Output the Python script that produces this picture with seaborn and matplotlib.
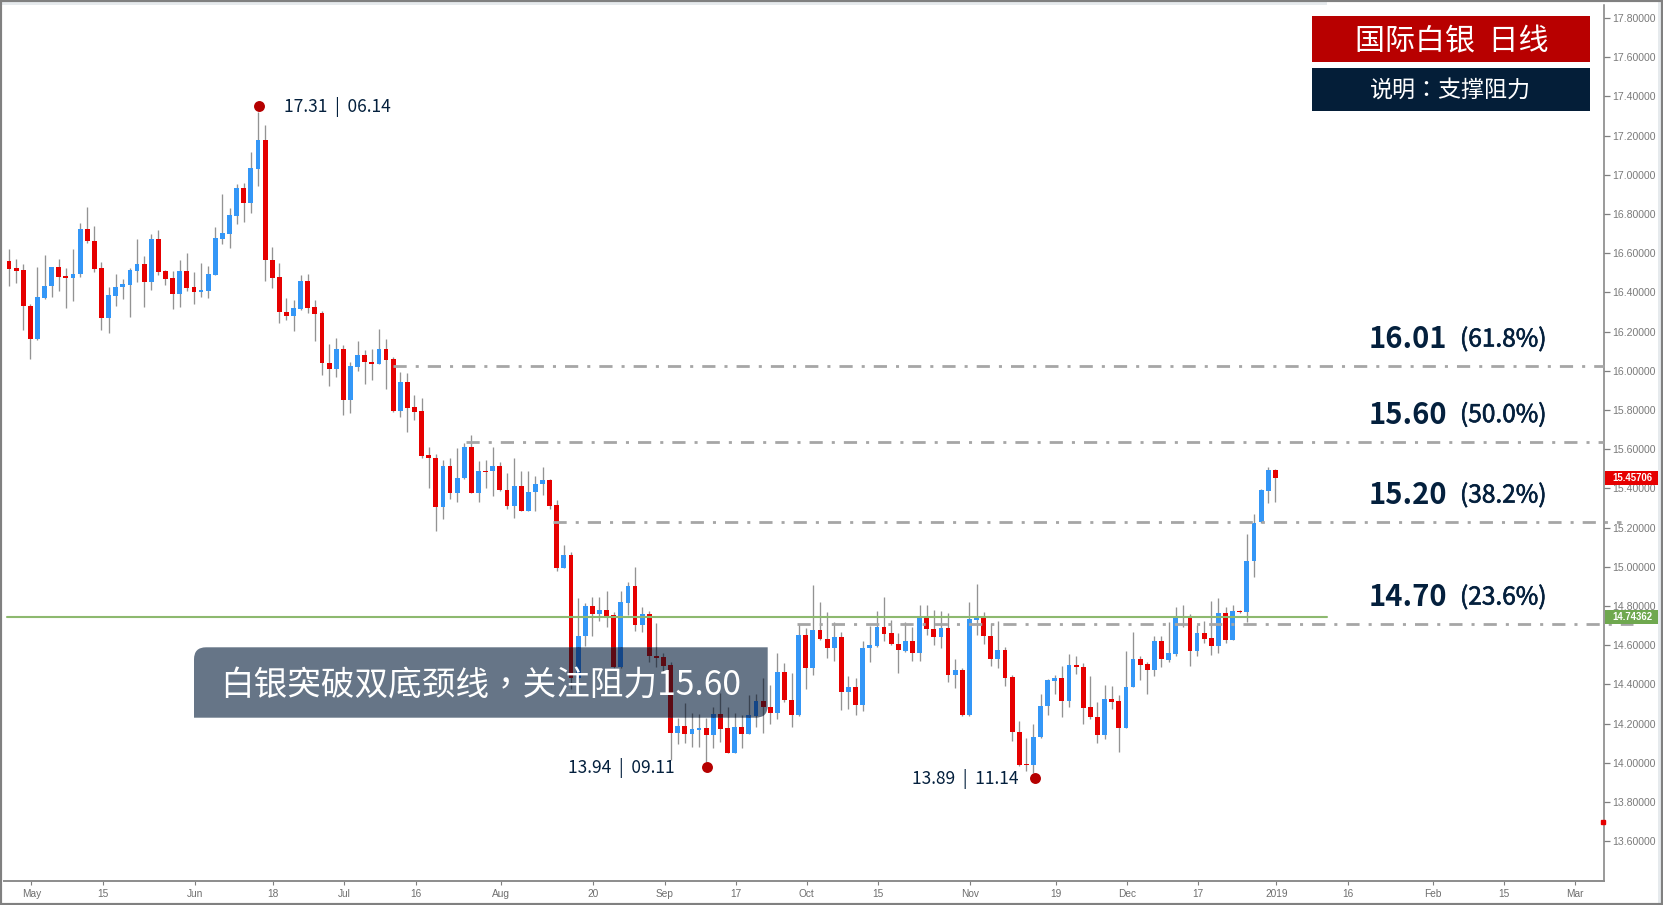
import numpy as np
import pandas as pd
import matplotlib
matplotlib.use("Agg")
import matplotlib.pyplot as plt
import matplotlib.patheffects as pe
import seaborn as sns
from matplotlib.patches import PathPatch, Rectangle
from matplotlib.path import Path

# ─────────────────────────────────────────────
# Data (prices)
# ─────────────────────────────────────────────

opens = [
    16.560, 16.524, 16.514, 16.332, 16.162, 16.373, 16.432, 16.531, 16.483, 16.475,
    16.493, 16.721, 16.664, 16.522, 16.267, 16.381, 16.427, 16.439, 16.510, 16.544,
    16.453, 16.672, 16.509, 16.473, 16.391, 16.509, 16.425, 16.400, 16.407, 16.488,
    16.674, 16.700, 16.790, 16.933, 16.855, 17.030, 17.176, 16.567, 16.478, 16.301,
    16.281, 16.317, 16.456, 16.323, 16.293, 16.041, 16.007, 16.111, 15.849, 16.019,
    16.080, 16.046, 16.034, 16.111, 16.060, 15.796, 15.941, 15.813, 15.794, 15.570,
    15.557, 15.305, 15.513, 15.378, 15.451, 15.610, 15.378, 15.490, 15.487, 15.516,
    15.392, 15.312, 15.411, 15.285, 15.383, 15.422, 15.441, 15.314, 14.994, 15.062,
    14.431, 14.644, 14.802, 14.759, 14.780, 14.752, 14.490, 14.817, 14.900, 14.703,
    14.759, 14.545, 14.538, 14.497, 14.154, 14.189, 14.147, 14.167, 14.176, 14.142,
    14.251, 14.176, 14.052, 14.181, 14.147, 14.239, 14.315, 14.285, 14.252, 14.462,
    14.320, 14.242, 14.652, 14.482, 14.678, 14.633, 14.586, 14.639, 14.363, 14.387,
    14.297, 14.583, 14.595, 14.691, 14.661, 14.608, 14.572, 14.622, 14.561, 14.736,
    14.683, 14.639, 14.688, 14.448, 14.472, 14.244, 14.729, 14.741, 14.647, 14.530,
    14.574, 14.438, 14.157, 13.994, 13.989, 14.129, 14.287, 14.419, 14.433, 14.314,
    14.498, 14.489, 14.282, 14.234, 14.142, 14.326, 14.314, 14.178, 14.385, 14.530,
    14.503, 14.472, 14.622, 14.525, 14.554, 14.744, 14.748, 14.569, 14.661, 14.635,
    14.596, 14.763, 14.627, 14.775, 14.768, 15.028, 15.229, 15.385, 15.494,
]
closes = [
    16.519, 16.509, 16.330, 16.162, 16.376, 16.434, 16.531, 16.480, 16.475, 16.495,
    16.721, 16.660, 16.519, 16.267, 16.385, 16.429, 16.442, 16.514, 16.544, 16.453,
    16.672, 16.505, 16.470, 16.391, 16.509, 16.422, 16.400, 16.412, 16.492, 16.677,
    16.703, 16.792, 16.933, 16.855, 17.035, 17.176, 16.564, 16.473, 16.298, 16.281,
    16.320, 16.456, 16.320, 16.291, 16.038, 16.007, 16.111, 15.849, 16.024, 16.080,
    16.043, 16.034, 16.111, 16.055, 15.796, 15.941, 15.808, 15.789, 15.567, 15.553,
    15.305, 15.513, 15.378, 15.455, 15.610, 15.378, 15.489, 15.485, 15.516, 15.390,
    15.312, 15.411, 15.286, 15.383, 15.422, 15.441, 15.312, 14.994, 15.062, 14.431,
    14.647, 14.802, 14.759, 14.780, 14.751, 14.490, 14.820, 14.900, 14.703, 14.759,
    14.545, 14.536, 14.494, 14.154, 14.189, 14.147, 14.171, 14.176, 14.142, 14.251,
    14.172, 14.052, 14.181, 14.147, 14.242, 14.315, 14.283, 14.252, 14.462, 14.320,
    14.242, 14.652, 14.482, 14.678, 14.630, 14.587, 14.639, 14.363, 14.387, 14.297,
    14.586, 14.600, 14.691, 14.657, 14.605, 14.574, 14.622, 14.561, 14.736, 14.680,
    14.639, 14.688, 14.450, 14.472, 14.244, 14.732, 14.741, 14.644, 14.530, 14.574,
    14.433, 14.156, 13.989, 13.987, 14.132, 14.290, 14.423, 14.433, 14.314, 14.498,
    14.486, 14.278, 14.231, 14.142, 14.326, 14.309, 14.178, 14.387, 14.530, 14.499,
    14.472, 14.622, 14.527, 14.561, 14.742, 14.748, 14.569, 14.661, 14.632, 14.596,
    14.763, 14.627, 14.775, 14.768, 15.031, 15.222, 15.390, 15.494, 15.451,
]
highs = [
    16.619, 16.568, 16.543, 16.339, 16.531, 16.589, 16.531, 16.568, 16.522, 16.619,
    16.755, 16.835, 16.738, 16.553, 16.425, 16.492, 16.470, 16.522, 16.672, 16.585,
    16.696, 16.716, 16.514, 16.509, 16.563, 16.599, 16.504, 16.550, 16.536, 16.733,
    16.902, 16.831, 16.953, 16.957, 17.115, 17.322, 17.254, 16.633, 16.550, 16.373,
    16.361, 16.488, 16.492, 16.361, 16.305, 16.135, 16.165, 16.130, 16.044, 16.152,
    16.104, 16.111, 16.211, 16.160, 16.072, 15.992, 15.987, 15.876, 15.859, 15.613,
    15.576, 15.543, 15.557, 15.604, 15.633, 15.672, 15.538, 15.543, 15.610, 15.533,
    15.477, 15.557, 15.490, 15.490, 15.465, 15.508, 15.450, 15.339, 15.110, 15.076,
    14.839, 14.814, 14.846, 14.846, 14.877, 14.771, 14.877, 14.921, 15.001, 14.793,
    14.773, 14.713, 14.559, 14.513, 14.230, 14.307, 14.252, 14.249, 14.227, 14.283,
    14.354, 14.286, 14.252, 14.244, 14.344, 14.351, 14.431, 14.394, 14.559, 14.511,
    14.456, 14.708, 14.686, 14.907, 14.822, 14.771, 14.717, 14.666, 14.440, 14.431,
    14.622, 14.700, 14.776, 14.845, 14.729, 14.661, 14.719, 14.691, 14.805, 14.805,
    14.780, 14.776, 14.763, 14.530, 14.482, 14.821, 14.913, 14.768, 14.712, 14.722,
    14.589, 14.447, 14.212, 14.127, 14.198, 14.351, 14.426, 14.447, 14.494, 14.555,
    14.542, 14.508, 14.441, 14.311, 14.397, 14.392, 14.345, 14.569, 14.666, 14.542,
    14.515, 14.647, 14.647, 14.717, 14.797, 14.807, 14.758, 14.703, 14.725, 14.824,
    14.839, 14.792, 14.805, 14.778, 15.167, 15.269, 15.394, 15.508, 15.497,
]
lows = [
    16.432, 16.449, 16.208, 16.058, 16.155, 16.364, 16.374, 16.408, 16.322, 16.357,
    16.480, 16.653, 16.505, 16.206, 16.194, 16.330, 16.364, 16.276, 16.454, 16.327,
    16.414, 16.490, 16.436, 16.317, 16.325, 16.408, 16.339, 16.378, 16.369, 16.488,
    16.649, 16.625, 16.749, 16.758, 16.807, 16.945, 16.458, 16.422, 16.245, 16.259,
    16.201, 16.310, 16.296, 16.153, 15.976, 15.924, 15.970, 15.774, 15.786, 16.000,
    15.934, 15.954, 16.032, 15.907, 15.788, 15.766, 15.686, 15.747, 15.553, 15.400,
    15.184, 15.246, 15.346, 15.332, 15.446, 15.375, 15.329, 15.400, 15.363, 15.385,
    15.293, 15.249, 15.283, 15.283, 15.285, 15.368, 15.293, 14.980, 14.992, 14.375,
    14.425, 14.596, 14.649, 14.723, 14.691, 14.485, 14.485, 14.754, 14.674, 14.666,
    14.513, 14.490, 14.465, 14.014, 14.094, 14.099, 14.079, 14.079, 14.006, 14.074,
    14.108, 14.050, 14.050, 14.074, 14.145, 14.184, 14.154, 14.198, 14.223, 14.312,
    14.181, 14.240, 14.377, 14.445, 14.627, 14.533, 14.521, 14.270, 14.275, 14.244,
    14.266, 14.516, 14.592, 14.622, 14.601, 14.460, 14.566, 14.521, 14.521, 14.651,
    14.601, 14.583, 14.411, 14.380, 14.240, 14.240, 14.654, 14.605, 14.491, 14.481,
    14.389, 14.112, 13.985, 13.960, 13.947, 14.125, 14.244, 14.351, 14.234, 14.283,
    14.455, 14.195, 14.222, 14.101, 14.123, 14.275, 14.057, 14.175, 14.384, 14.423,
    14.350, 14.441, 14.486, 14.516, 14.545, 14.690, 14.494, 14.547, 14.613, 14.552,
    14.562, 14.610, 14.625, 14.765, 14.717, 14.948, 15.225, 15.327, 15.332,
]

x_tick_bars = [3, 13, 26, 37, 47, 57, 69, 82, 92, 102, 112, 122, 135, 147, 157, 167, 178, 188, 200, 210, 220]
x_tick_labels = ["May", "15", "Jun", "18", "Jul", "16", "Aug", "20", "Sep", "17", "Oct", "15",
                 "Nov", "19", "Dec", "17", "2019", "16", "Feb", "15", "Mar"]
y_ticks = [17.8, 17.6, 17.4, 17.2, 17.0, 16.8, 16.6, 16.4, 16.2, 16.0, 15.8,
           15.6, 15.4, 15.2, 15.0, 14.8, 14.6, 14.4, 14.2, 14.0, 13.8, 13.6]

level_prices = [16.024, 15.638, 15.229, 14.708]
level_start_bars = [54.0, 64.3, 76.5, 110.7]
level_end_bars = [224.2, 224.2, 226.6, 228.3]
level_names = ["16.01", "15.60", "15.20", "14.70"]
level_pcts = ["(61.8%)", "(50.0%)", "(38.2%)", "(23.6%)"]

neckline_price = 14.74362
last_price = 15.45706

swing_bars = [35.15, 98.1, 144.2]
swing_prices = [17.35, 13.98, 13.92]
swing_labels = ["17.31  |  06.14", "13.94  |  09.11", "13.89  |  11.14"]

# ─────────────────────────────────────────────
# Layout helpers
# ─────────────────────────────────────────────

W, H = 1663, 905
UP = "#3497F7"
DOWN = "#E60000"
WICK = "#939393"
NAVY = "#04203D"
CJK = ["Noto Sans CJK SC", "DejaVu Sans"]
CJK_TC = ["Noto Sans CJK TC", "DejaVu Sans"]

sns.set_theme(style="white")
plt.rcParams["font.family"] = CJK
plt.rcParams["lines.scale_dashes"] = False


def fx(px):
    return px / W


def fy(py):
    return 1 - py / H


def draw_candles(ax, df, up, down, wick, clip=None, z=2):
    """Draw wicks and bodies; with clip set, only the part inside that patch shows."""
    colors = np.where(df["close"] >= df["open"], up, down)
    wicks = ax.vlines(df["bar"], df["low"], df["high"], color=wick, linewidth=0.95, zorder=z)
    bodies = ax.bar(df["bar"], (df["close"] - df["open"]).abs(), bottom=df[["open", "close"]].min(axis=1),
                    width=0.68, color=colors, linewidth=0, zorder=z + 0.1)
    if clip is not None:
        wicks.set_clip_path(clip)
        for b in bodies:
            b.set_clip_path(clip)


df = pd.DataFrame({"open": opens, "high": highs, "low": lows, "close": closes})
df["bar"] = np.arange(len(df))

fig = plt.figure(figsize=(W / 100, H / 100), dpi=100, facecolor="white")
ax = fig.add_axes([fx(4), fy(880.7), fx(1604 - 4), (880.7 - 5) / H])
ax.set_xlim(-0.7, 224.2)
ax.set_ylim(13.398, 17.866)

draw_candles(ax, df, UP, DOWN, WICK)

# neckline and retracement levels
sns.lineplot(x=[-0.3, 185.2], y=[neckline_price, neckline_price], ax=ax, color="#8DB96F",
             linewidth=1.5, zorder=3)
for price, start, end in zip(level_prices, level_start_bars, level_end_bars):
    line = sns.lineplot(x=[start, end], y=[price, price], ax=ax, color="#A6A6A6", linewidth=2.0,
                        linestyle=(0, (9.5, 6.5, 2.2, 6.5)), zorder=3)
    line.lines[-1].set_clip_on(False)
    line.lines[-1].set_dash_capstyle("butt")

# swing points
sns.scatterplot(x=swing_bars, y=swing_prices, ax=ax, color="#B50000", s=62, linewidth=0, zorder=5)

# axes
for side in ["left", "top"]:
    ax.spines[side].set_visible(False)
ax.spines["right"].set_color("#7F7F7F")
ax.spines["right"].set_linewidth(1.1)
ax.spines["bottom"].set_color("#8C8C8C")
ax.spines["bottom"].set_linewidth(1.4)
ax.yaxis.tick_right()
ax.set_yticks(y_ticks)
ax.set_yticklabels([f"{v:.5f}" for v in y_ticks], fontfamily="Liberation Sans", fontsize=7.6, color="#7A7A7A")
ax.set_xticks(np.array(x_tick_bars) + 0.15)
ax.set_xticklabels(x_tick_labels, fontfamily="Liberation Sans", fontsize=7.3, color="#6E6E6E")
ax.tick_params(axis="y", length=4, width=0.9, color="#7F7F7F", pad=2.2, right=True, left=False)
ax.tick_params(axis="x", length=3, width=0.8, color="#7F7F7F", pad=3, bottom=True)
ax.grid(False)

# stray stop marker sitting on the price axis
ax.plot([224.1], [13.70], marker="s", markersize=2.8, color="#E60000", clip_on=False, zorder=6)

# annotation box, candles multiply through it
x0, x1, y0, y1 = 194, 767.7, 647.3, 717.7
r = 12
box_px = [(x0 + r, y0), (x1, y0), (x1, y1 - r), (x1, y1), (x1 - r, y1), (x0, y1), (x0, y0 + r), (x0, y0), (x0 + r, y0)]
codes = [Path.MOVETO, Path.LINETO, Path.LINETO, Path.CURVE3, Path.CURVE3, Path.LINETO, Path.LINETO, Path.CURVE3, Path.CURVE3]
box_path = Path([(fx(px), fy(py)) for px, py in box_px], codes)
box = PathPatch(box_path, transform=fig.transFigure, facecolor="#667587", edgecolor="none", zorder=4)
ax.add_patch(box)
box.set_clip_on(False)
draw_candles(ax, df, "#144687", "#5C0A14", "#3A4350", clip=box, z=4.2)

fig.text(fx(220.5), fy(686), "白银突破双底颈线，关注阻力15.60", color="white", fontsize=24.2,
         family=CJK_TC, va="center", ha="left", zorder=10)

# title boxes
fig.patches.append(Rectangle((fx(1312), fy(62)), fx(278), 46 / H, transform=fig.transFigure, facecolor="#B80000", edgecolor="none"))
fig.patches.append(Rectangle((fx(1312), fy(110.7)), fx(278), 42.7 / H, transform=fig.transFigure, facecolor="#041E38", edgecolor="none"))
fig.text(fx(1451.5), fy(42), "国际白银  日线", color="white", fontsize=21.6, ha="center", va="center", zorder=10)
fig.text(fx(1450), fy(90), "说明：支撑阻力", color="white", fontsize=16.6, family=CJK_TC, ha="center", va="center", zorder=10)

# level captions
name_y = [339, 414.6, 495, 597]
medium = [pe.withStroke(linewidth=0.45, foreground=NAVY)]
for name, pct, py in zip(level_names, level_pcts, name_y):
    fig.text(fx(1369), fy(py), name, color=NAVY, fontsize=21, fontweight="bold", ha="left", va="center", zorder=10)
    fig.text(fx(1460), fy(py + 0.5), pct, color=NAVY, fontsize=17.6, ha="left", va="center", zorder=10, path_effects=medium)

# swing captions
label_xy = [(284, 106.7), (567.5, 768), (911.5, 779)]
for text, (px, py) in zip(swing_labels, label_xy):
    fig.text(fx(px), fy(py), text, color=NAVY, fontsize=12.5, ha="left", va="center", zorder=10)

# current price tags on the axis
for price, color, py0 in [(last_price, "#E60000", 470.7), (neckline_price, "#6FA84F", 610)]:
    fig.patches.append(Rectangle((fx(1604.5), fy(py0 + 14.3)), fx(53), 14.3 / H, transform=fig.transFigure,
                                 facecolor=color, edgecolor="none", zorder=9))
    fig.text(fx(1612), fy(py0 + 7.2), f"{price:.5f}", color="white", fontsize=6.9, fontfamily="Liberation Sans",
             fontweight="bold", ha="left", va="center", zorder=10)

# window frame
fig.patches.append(Rectangle((fx(1658), 0), fx(3), 1, transform=fig.transFigure, facecolor="#E6EAED", edgecolor="none", zorder=-1))
fig.patches.append(Rectangle((0, fy(5)), fx(1327), 3 / H, transform=fig.transFigure, facecolor="#E6EAED", edgecolor="none", zorder=19))
fig.patches.append(Rectangle((0, 0), 1, 1, transform=fig.transFigure, facecolor="none", edgecolor="#808080", linewidth=3.0, zorder=20))

fig.savefig("out.png", dpi=100)
plt.close(fig)
